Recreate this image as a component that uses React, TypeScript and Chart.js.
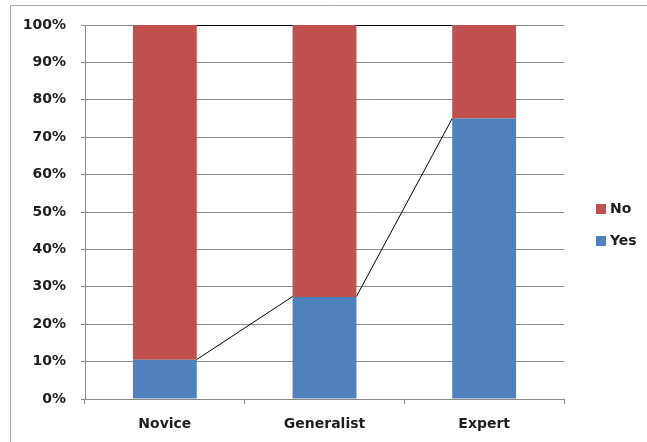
import React, { useEffect, useRef } from "react";
import { Chart, registerables } from "chart.js";

Chart.register(...registerables);

const categories = ["Novice", "Generalist", "Expert"];
const yesValues = [10.5, 27.3, 75];
const noValues = [89.5, 72.7, 25];
const seriesNames = ["Yes", "No"];
const seriesColors = ["#4F81BD", "#C0504D"];

const FONT = "'DejaVu Sans', sans-serif";
const GRID = "#8a8a8a";
const TEXT = "#1e1e1e";

const crisp = (v: number) => Math.round(v - 0.5) + 0.5;

// Outer chart frame (top and left edges visible)
const framePlugin = {
  id: "frame",
  beforeDraw(chart: Chart) {
    const ctx = chart.ctx;
    ctx.save();
    ctx.strokeStyle = "#a6a6a6";
    ctx.lineWidth = 1;
    ctx.beginPath();
    ctx.moveTo(10.5, chart.height);
    ctx.lineTo(10.5, 5.5);
    ctx.lineTo(chart.width, 5.5);
    ctx.stroke();
    ctx.restore();
  },
};

// Series lines joining the tops of each stacked segment between bars
const seriesLinesPlugin = {
  id: "seriesLines",
  afterDatasetsDraw(chart: Chart) {
    const ctx = chart.ctx;
    ctx.save();
    ctx.strokeStyle = "#000";
    ctx.lineWidth = 1;
    chart.data.datasets.forEach((_, di) => {
      const bars = chart.getDatasetMeta(di).data as any[];
      for (let i = 0; i < bars.length - 1; i++) {
        const a = bars[i];
        const b = bars[i + 1];
        ctx.beginPath();
        ctx.moveTo(a.x + a.width / 2, crisp(a.y));
        ctx.lineTo(b.x - b.width / 2, crisp(b.y));
        ctx.stroke();
      }
    });
    ctx.restore();
  },
};

// Legend on the right, top series listed first
const legendPlugin = {
  id: "sideLegend",
  afterDraw(chart: Chart) {
    const ctx = chart.ctx;
    const items = chart.data.datasets.map((d, i) => ({
      label: d.label as string,
      color: seriesColors[i],
    })).reverse();
    ctx.save();
    ctx.font = `bold 14px ${FONT}`;
    ctx.textBaseline = "middle";
    ctx.textAlign = "left";
    items.forEach((it, i) => {
      const cy = 209 + i * 32;
      ctx.fillStyle = it.color;
      ctx.fillRect(596, cy - 5, 10, 10);
      ctx.fillStyle = TEXT;
      ctx.fillText(it.label, 610, cy);
    });
    ctx.restore();
  },
};

export default function App() {
  const ref = useRef<HTMLCanvasElement | null>(null);

  useEffect(() => {
    if (!ref.current) return;
    const chart = new Chart(ref.current, {
      type: "bar",
      data: {
        labels: categories,
        datasets: [
          {
            label: seriesNames[0],
            data: yesValues,
            backgroundColor: seriesColors[0],
            categoryPercentage: 1,
            barPercentage: 0.4,
          },
          {
            label: seriesNames[1],
            data: noValues,
            backgroundColor: seriesColors[1],
            categoryPercentage: 1,
            barPercentage: 0.4,
          },
        ],
      },
      options: {
        responsive: false,
        animation: false,
        layout: { padding: { left: 10, right: 83, top: 25, bottom: 0 } },
        plugins: {
          legend: { display: false },
          tooltip: { enabled: false },
        },
        scales: {
          x: {
            stacked: true,
            grid: {
              display: true,
              drawOnChartArea: false,
              drawTicks: true,
              tickLength: 5,
              color: GRID,
              offset: true,
            },
            border: { display: true, color: GRID },
            ticks: {
              color: TEXT,
              font: { family: FONT, size: 14, weight: "bold" },
              padding: 12,
            },
            afterFit(scale: any) {
              scale.height = 43;
            },
          },
          y: {
            stacked: true,
            min: 0,
            max: 100,
            grid: {
              color: GRID,
              drawTicks: true,
              tickLength: 4,
            },
            border: { display: true, color: GRID },
            ticks: {
              stepSize: 10,
              color: TEXT,
              font: { family: FONT, size: 14, weight: "bold" },
              padding: 15,
              callback: (v: any) => `${v}%`,
            },
            afterFit(scale: any) {
              scale.width = 75;
            },
          },
        },
      },
      plugins: [framePlugin, seriesLinesPlugin, legendPlugin],
    });
    return () => chart.destroy();
  }, []);

  return (
    <div style={{ position: "fixed", left: 0, top: 0, width: 647, height: 442, background: "#fff" }}>
      <canvas ref={ref} width={647} height={442} style={{ display: "block" }} />
    </div>
  );
}
